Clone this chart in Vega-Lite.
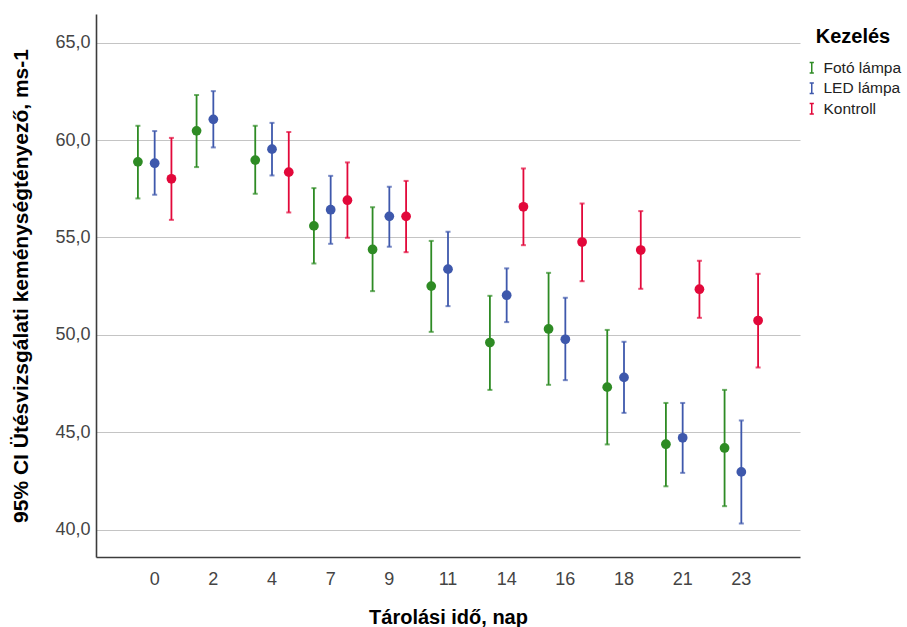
{
  "$schema": "https://vega.github.io/schema/vega-lite/v6.json",
  "width": 704,
  "height": 543,
  "autosize": {"type": "none"},
  "padding": {"left": 96, "top": 14, "right": 107, "bottom": 70},
  "background": "white",
  "config": {
    "view": {"stroke": null},
    "font": "Liberation Sans",
    "axis": {"labelFont": "Liberation Sans", "titleFont": "Liberation Sans"},
    "legend": {"labelFont": "Liberation Sans", "titleFont": "Liberation Sans"}
  },
  "data": {
    "values": [
      {"day": 0, "group": "Fotó lámpa", "mean": 58.88, "lo": 57.0, "hi": 60.73},
      {"day": 0, "group": "LED lámpa", "mean": 58.81, "lo": 57.19, "hi": 60.46},
      {"day": 0, "group": "Kontroll", "mean": 58.01, "lo": 55.9, "hi": 60.11},
      {"day": 2, "group": "Fotó lámpa", "mean": 60.47, "lo": 58.61, "hi": 62.31},
      {"day": 2, "group": "LED lámpa", "mean": 61.06, "lo": 59.62, "hi": 62.51},
      {"day": 4, "group": "Fotó lámpa", "mean": 58.97, "lo": 57.24, "hi": 60.73},
      {"day": 4, "group": "LED lámpa", "mean": 59.53, "lo": 58.18, "hi": 60.88},
      {"day": 4, "group": "Kontroll", "mean": 58.35, "lo": 56.28, "hi": 60.41},
      {"day": 7, "group": "Fotó lámpa", "mean": 55.59, "lo": 53.66, "hi": 57.53},
      {"day": 7, "group": "LED lámpa", "mean": 56.42, "lo": 54.67, "hi": 58.16},
      {"day": 7, "group": "Kontroll", "mean": 56.91, "lo": 54.98, "hi": 58.85},
      {"day": 9, "group": "Fotó lámpa", "mean": 54.38, "lo": 52.24, "hi": 56.55},
      {"day": 9, "group": "LED lámpa", "mean": 56.08, "lo": 54.52, "hi": 57.6},
      {"day": 9, "group": "Kontroll", "mean": 56.08, "lo": 54.24, "hi": 57.9},
      {"day": 11, "group": "Fotó lámpa", "mean": 52.5, "lo": 50.15, "hi": 54.82},
      {"day": 11, "group": "LED lámpa", "mean": 53.37, "lo": 51.47, "hi": 55.29},
      {"day": 14, "group": "Fotó lámpa", "mean": 49.6, "lo": 47.17, "hi": 52.0},
      {"day": 14, "group": "LED lámpa", "mean": 52.03, "lo": 50.65, "hi": 53.41},
      {"day": 14, "group": "Kontroll", "mean": 56.57, "lo": 54.6, "hi": 58.54},
      {"day": 16, "group": "Fotó lámpa", "mean": 50.3, "lo": 47.43, "hi": 53.18},
      {"day": 16, "group": "LED lámpa", "mean": 49.77, "lo": 47.67, "hi": 51.9},
      {"day": 16, "group": "Kontroll", "mean": 54.76, "lo": 52.75, "hi": 56.74},
      {"day": 18, "group": "Fotó lámpa", "mean": 47.31, "lo": 44.37, "hi": 50.25},
      {"day": 18, "group": "LED lámpa", "mean": 47.81, "lo": 45.99, "hi": 49.64},
      {"day": 18, "group": "Kontroll", "mean": 54.35, "lo": 52.36, "hi": 56.35},
      {"day": 21, "group": "Fotó lámpa", "mean": 44.38, "lo": 42.22, "hi": 46.5},
      {"day": 21, "group": "LED lámpa", "mean": 44.71, "lo": 42.91, "hi": 46.5},
      {"day": 21, "group": "Kontroll", "mean": 52.34, "lo": 50.87, "hi": 53.8},
      {"day": 23, "group": "Fotó lámpa", "mean": 44.19, "lo": 41.2, "hi": 47.17},
      {"day": 23, "group": "LED lámpa", "mean": 42.96, "lo": 40.31, "hi": 45.6},
      {"day": 23, "group": "Kontroll", "mean": 50.73, "lo": 48.32, "hi": 53.13}
    ]
  },
  "encoding": {
    "x": {
      "field": "day",
      "type": "ordinal",
      "scale": {"type": "band", "paddingInner": 0, "paddingOuter": 0.5},
      "axis": {
        "title": "Tárolási idő, nap",
        "labelAngle": 0,
        "ticks": false,
        "labelPadding": 13,
        "labelFontSize": 18,
        "labelColor": "#444444",
        "titleFontSize": 20,
        "titleFontWeight": "bold",
        "titleColor": "#000000",
        "titlePadding": 19,
        "domainColor": "#3c3c3c",
        "domainWidth": 1.6,
        "grid": false
      }
    },
    "xOffset": {
      "field": "group",
      "type": "nominal",
      "sort": ["Fotó lámpa", "LED lámpa", "Kontroll"],
      "scale": {"paddingInner": 0, "paddingOuter": 0.25}
    },
    "color": {
      "field": "group",
      "type": "nominal",
      "sort": ["Fotó lámpa", "LED lámpa", "Kontroll"],
      "scale": {
        "domain": ["Fotó lámpa", "LED lámpa", "Kontroll"],
        "range": ["#2E8B24", "#3E58AC", "#E2083A"]
      }
    }
  },
  "layer": [
    {
      "mark": {"type": "rule", "strokeWidth": 1.8},
      "encoding": {
        "y": {
          "field": "lo",
          "type": "quantitative",
          "scale": {"domain": [38.59, 66.47], "nice": false, "zero": false},
          "axis": {
            "title": "95% CI Ütésvizsgálati keménységtényező, ms-1",
            "values": [40, 45, 50, 55, 60, 65],
            "labelExpr": "replace(format(datum.value, '.1f'), '.', ',')",
            "ticks": false,
            "labelPadding": 6,
            "labelFontSize": 18,
            "labelColor": "#444444",
            "titleFontSize": 21,
            "titleFontWeight": "bold",
            "titleColor": "#000000",
            "titlePadding": 23,
            "domainColor": "#3c3c3c",
            "domainWidth": 1.6,
            "grid": true,
            "gridColor": "#c4c4c4",
            "gridWidth": 1
          }
        },
        "y2": {"field": "hi"},
        "color": {
          "field": "group",
          "type": "nominal",
          "sort": ["Fotó lámpa", "LED lámpa", "Kontroll"],
          "legend": {
            "title": "Kezelés",
            "orient": "none",
            "legendX": 708,
            "legendY": 13,
            "symbolType": "M-0.4,-1H0.4M0,-1V1M-0.4,1H0.4",
            "symbolSize": 110,
            "symbolStrokeWidth": 1.5,
            "titleFontSize": 20,
            "titleFontWeight": "bold",
            "titleColor": "#000000",
            "titleAnchor": "middle",
            "labelFontSize": 15.5,
            "labelColor": "#222222",
            "rowPadding": 2.5,
            "titlePadding": 13,
            "labelOffset": 4
          }
        }
      }
    },
    {
      "mark": {"type": "tick", "orient": "horizontal", "size": 5, "thickness": 2},
      "encoding": {
        "y": {"field": "lo", "type": "quantitative", "scale": {"domain": [38.59, 66.47], "nice": false, "zero": false}},
        "color": {"field": "group", "type": "nominal", "legend": null}
      }
    },
    {
      "mark": {"type": "tick", "orient": "horizontal", "size": 5, "thickness": 2},
      "encoding": {
        "y": {"field": "hi", "type": "quantitative", "scale": {"domain": [38.59, 66.47], "nice": false, "zero": false}},
        "color": {"field": "group", "type": "nominal", "legend": null}
      }
    },
    {
      "mark": {"type": "circle", "size": 95, "opacity": 1},
      "encoding": {
        "y": {"field": "mean", "type": "quantitative", "scale": {"domain": [38.59, 66.47], "nice": false, "zero": false}},
        "color": {"field": "group", "type": "nominal", "legend": null}
      }
    }
  ]
}
